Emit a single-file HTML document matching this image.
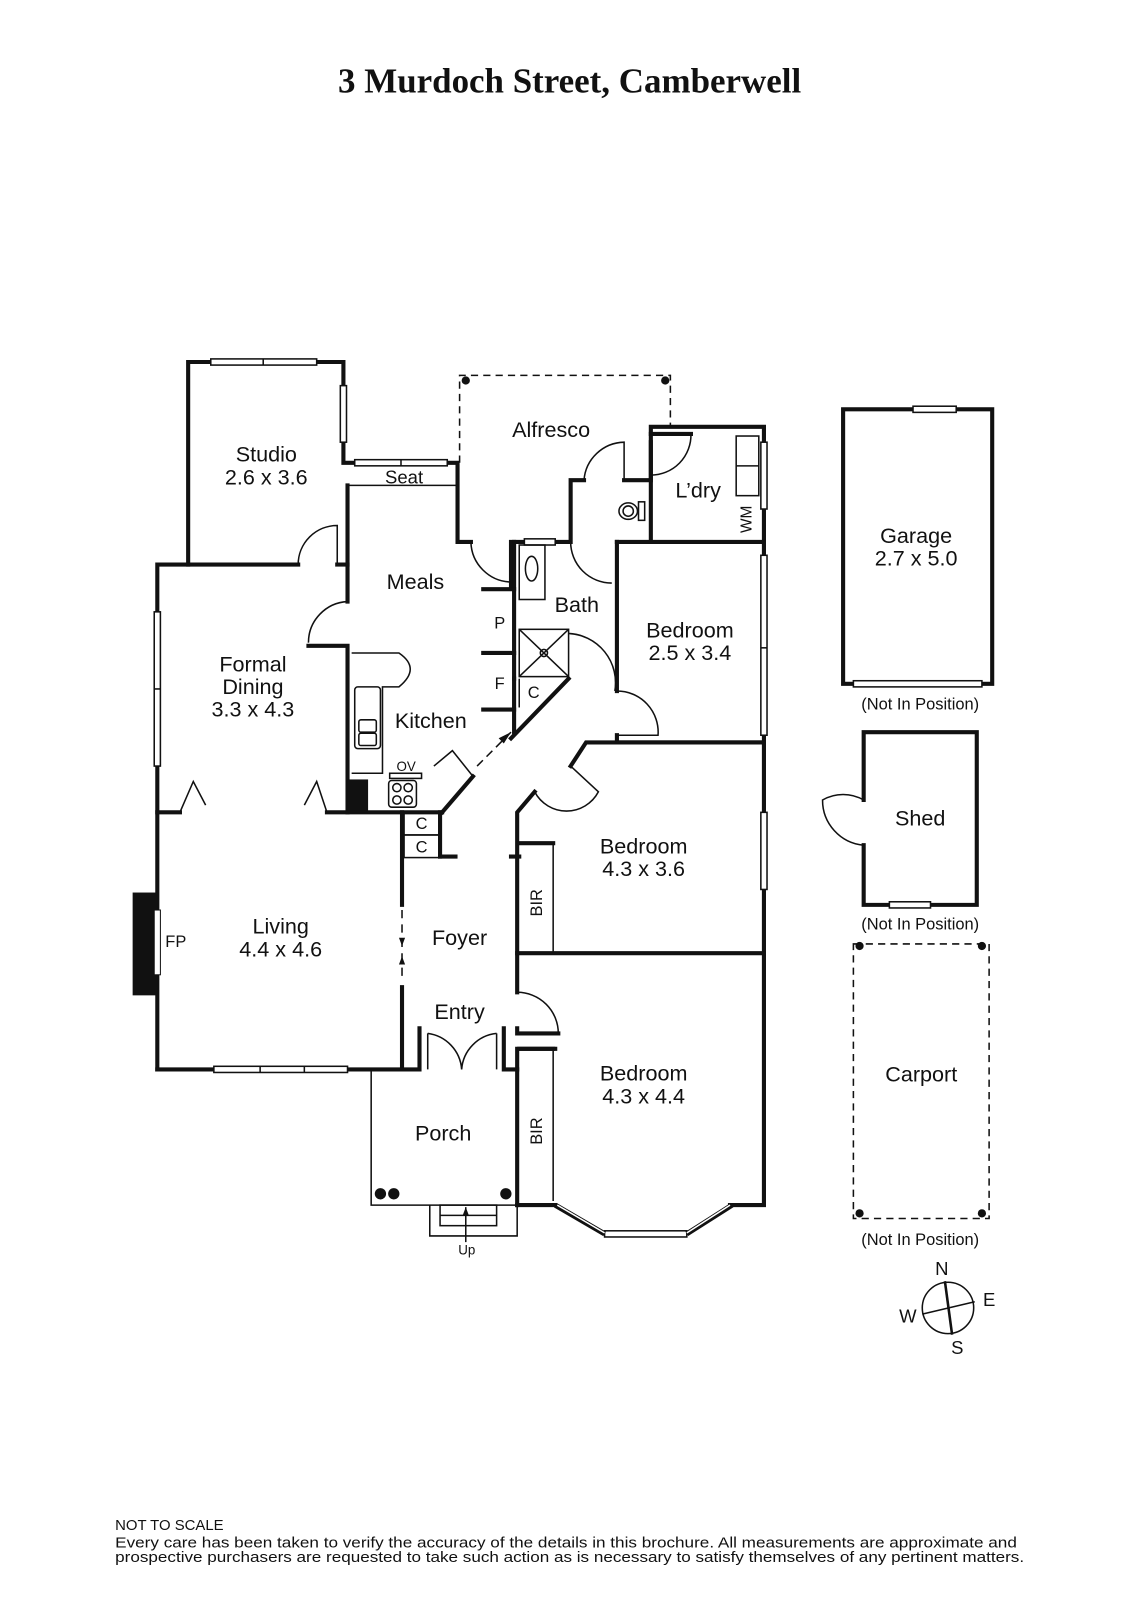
<!DOCTYPE html>
<html><head><meta charset="utf-8"><style>
html,body{margin:0;padding:0;background:#fff}
svg{display:block}
text{font-family:"Liberation Sans",sans-serif;fill:#111}
</style></head><body>
<svg width="1131" height="1600" viewBox="0 0 1100 1556" xmlns="http://www.w3.org/2000/svg">
<rect width="1100" height="1556" fill="#fff"/>
<text x="554" y="90" text-anchor="middle" style="font-family:'Liberation Serif',serif;font-weight:bold;font-size:34px">3 Murdoch Street, Camberwell</text>

<g fill="none" stroke="#111" stroke-width="4" stroke-linejoin="miter" stroke-linecap="square">
<polyline points="183,549 183,352 334,352 334,450 445,450 445,527 458,527"/>
<polyline points="153,1040 153,549 290,549"/>
<line x1="328" y1="549" x2="338" y2="549"/>
<polyline points="338,472 338,585"/>
<polyline points="300,628 338,628 338,790"/>
<polyline points="497,570 497,527 555,527 555,467 568,467"/>
<polyline points="607,467 633,467 633,430"/>
<polyline points="633,527 633,415 743,415 743,1172 710,1172"/>
<line x1="633" y1="422" x2="672" y2="422"/>
<polyline points="600,527 743,527"/>
<polyline points="600,527 600,672"/>
<polyline points="600,715 600,722 743,722"/>
<line x1="500" y1="527" x2="500" y2="660"/>
<polyline points="470,573 500,573"/>
<polyline points="470,635 500,635"/>
<line x1="470" y1="690" x2="500" y2="690"/>
<line x1="500" y1="660" x2="500" y2="712"/>
<line x1="553" y1="660" x2="497" y2="718"/>
<line x1="460" y1="755" x2="430" y2="790"/>
<polyline points="153,790 175,790"/>
<polyline points="318,790 430,790"/>
<line x1="428" y1="790" x2="428" y2="833"/>
<polyline points="391,790 391,880"/>
<line x1="391" y1="960" x2="391" y2="1040"/>
<polyline points="153,1040 408,1040 408,1000"/>
<line x1="428" y1="833" x2="443" y2="833"/>
<line x1="497" y1="833" x2="505" y2="833"/>
<polyline points="503,1172 503,1020 540,1020"/>
<polyline points="503,1000 503,1005 543,1005"/>
<polyline points="503,965 503,790 520,770"/>
<polyline points="555,745 570,722 743,722"/>
<polyline points="490,1000 490,1040 503,1040"/>
<line x1="503" y1="927" x2="743" y2="927"/>
<line x1="505" y1="820" x2="538" y2="820"/>
<line x1="505" y1="1020" x2="538" y2="1020"/>
<polyline points="503,1172 540,1172"/>
<rect x="820" y="398" width="145" height="267"/>
<polyline points="840,778 840,712 950,712 950,880 840,880 840,822"/>
</g>

<g fill="none" stroke="#111" stroke-width="1.5">
<line x1="338" y1="472" x2="445" y2="472"/>
<rect x="205" y="349" width="103" height="6" fill="#fff"/>
<line x1="256" y1="349" x2="256" y2="355"/>
<rect x="331" y="375" width="6" height="55" fill="#fff"/>
<rect x="345" y="447" width="90" height="6" fill="#fff"/>
<line x1="390" y1="447" x2="390" y2="453"/>
<rect x="150" y="595" width="6" height="150" fill="#fff"/>
<line x1="150" y1="670" x2="156" y2="670"/>
<rect x="510" y="524" width="30" height="6" fill="#fff"/>
<rect x="740" y="430" width="6" height="65" fill="#fff"/>
<rect x="740" y="540" width="6" height="175" fill="#fff"/>
<line x1="740" y1="630" x2="746" y2="630"/>
<rect x="740" y="790" width="6" height="75" fill="#fff"/>
<rect x="208" y="1037" width="130" height="6" fill="#fff"/>
<line x1="253" y1="1037" x2="253" y2="1043"/><line x1="296" y1="1037" x2="296" y2="1043"/>
<rect x="588" y="1197" width="80" height="6" fill="#fff"/>
<line x1="540" y1="1172" x2="588" y2="1200" stroke-width="5"/>
<line x1="668" y1="1200" x2="712" y2="1172" stroke-width="5"/>
<line x1="542" y1="1172" x2="588" y2="1199" stroke="#fff" stroke-width="1.5"/>
<line x1="668" y1="1199" x2="710" y2="1172" stroke="#fff" stroke-width="1.5"/>
<rect x="888" y="395" width="42" height="6" fill="#fff"/>
<rect x="830" y="662" width="125" height="6" fill="#fff"/>
<rect x="865" y="877" width="40" height="6" fill="#fff"/>
<path d="M290,549 A38,38 0 0 1 328,511 L328,549"/>
<path d="M338,585 A40,40 0 0 0 300,625"/>
<path d="M458,527 A40,40 0 0 0 497,566"/>
<path d="M555,527 A40,40 0 0 0 595,567"/>
<path d="M568,467 A40,40 0 0 1 607,430 L607,467"/>
<path d="M633,422 L672,422 A39,39 0 0 1 633,462"/>
<path d="M553,616 A48,48 0 0 1 598,672"/>
<path d="M600,672 A40,40 0 0 1 640,715 L600,715"/>
<path d="M520,770 A35,35 0 0 0 582,770 L555,745"/>
<path d="M503,965 A40,40 0 0 1 543,1005"/>
<path d="M416,1005 A38,38 0 0 1 449,1040 M449,1040 A38,38 0 0 1 483,1005"/>
<line x1="416" y1="1005" x2="416" y2="1040"/><line x1="483" y1="1005" x2="483" y2="1040"/>
<path d="M840,778 A40,40 0 0 0 800,778 A44,44 0 0 0 840,822"/>
<polyline points="175,790 188,760 200,783"/>
<polyline points="296,783 308,760 318,790"/>
<polyline points="422,745 440,730 460,755"/>
<path d="M342,635 L388,635 Q410,650 388,668 L372,668 L372,752 L342,752"/>
<rect x="345" y="668" width="25" height="60" rx="3"/>
<rect x="349" y="700" width="17" height="12" rx="2"/><rect x="349" y="713" width="17" height="12" rx="2"/>
<rect x="379" y="752" width="31" height="5"/>
<rect x="378" y="759" width="27" height="26" rx="3"/>
<circle cx="386" cy="766" r="4"/><circle cx="397" cy="766" r="4"/><circle cx="386" cy="778" r="4"/><circle cx="397" cy="778" r="4"/>
<rect x="505" y="530" width="25" height="53"/>
<ellipse cx="517" cy="553" rx="6" ry="12"/>
<rect x="505" y="612" width="48" height="46"/>
<line x1="505" y1="612" x2="553" y2="658"/><line x1="553" y1="612" x2="505" y2="658"/>
<circle cx="529" cy="635" r="3.5"/>
<line x1="505" y1="660" x2="505" y2="688"/>
<ellipse cx="611" cy="497" rx="9" ry="8"/><ellipse cx="611" cy="497" rx="5" ry="5"/><rect x="621" y="488" width="6" height="18"/>
<rect x="716" y="424" width="22" height="58"/><line x1="716" y1="453" x2="738" y2="453"/>
<line x1="538" y1="820" x2="538" y2="927"/>
<line x1="538" y1="1020" x2="538" y2="1168"/>
<rect x="393" y="790" width="35" height="22"/><rect x="393" y="812" width="35" height="22"/>
<polyline points="361,1040 361,1172 503,1172"/>
<polyline points="418,1172 418,1202 503,1202 503,1172"/>
<rect x="428" y="1172" width="55" height="20"/>
<line x1="428" y1="1182" x2="483" y2="1182"/>
<line x1="453" y1="1174" x2="453" y2="1208"/>
<line x1="391" y1="885" x2="391" y2="955" stroke-dasharray="8,6"/>
<line x1="464" y1="745" x2="497" y2="712" stroke-dasharray="8,5"/>
</g>
<polygon points="497,712 485,718 490,723" fill="#111"/>
<polygon points="391,920 388,912 394,912" fill="#111"/>
<polygon points="391,930 388,938 394,938" fill="#111"/>
<polygon points="453,1174 450,1182 456,1182" fill="#111"/>

<rect x="129" y="868" width="24" height="100" fill="#111"/>
<rect x="150" y="885" width="6" height="63" fill="#fff" stroke="#111" stroke-width="1"/>
<rect x="338" y="758" width="20" height="32" fill="#111"/>

<g fill="#111">
<circle cx="453" cy="370" r="4"/><circle cx="647" cy="370" r="4"/>
<circle cx="370" cy="1161" r="5.5"/><circle cx="383" cy="1161" r="5.5"/><circle cx="492" cy="1161" r="5.5"/>
<circle cx="836" cy="920" r="4"/><circle cx="955" cy="920" r="4"/><circle cx="836" cy="1180" r="4"/><circle cx="955" cy="1180" r="4"/>
</g>
<g fill="none" stroke="#111" stroke-width="1.5" stroke-dasharray="7,5">
<polyline points="447,450 447,365 652,365 652,415"/>
<rect x="830" y="918" width="132" height="267"/>
</g>

<g stroke="#111" stroke-width="1.5" fill="none">
<circle cx="922" cy="1272" r="25"/>
<line x1="919" y1="1246" x2="926" y2="1298" stroke-width="2.5"/>
<line x1="897" y1="1278" x2="948" y2="1266"/>
</g>
<g font-size="18">
<text x="916" y="1240" text-anchor="middle">N</text>
<text x="962" y="1270" text-anchor="middle">E</text>
<text x="883" y="1286" text-anchor="middle">W</text>
<text x="931" y="1317" text-anchor="middle">S</text>
</g>

<g font-size="21" text-anchor="middle">
<text x="259" y="449">Studio</text><text x="259" y="471">2.6 x 3.6</text>
<text x="536" y="425">Alfresco</text>
<text x="679" y="484">L’dry</text>
<text x="404" y="573">Meals</text>
<text x="561" y="595">Bath</text>
<text x="671" y="620">Bedroom</text><text x="671" y="642">2.5 x 3.4</text>
<text x="246" y="653">Formal</text><text x="246" y="675">Dining</text><text x="246" y="697">3.3 x 4.3</text>
<text x="419" y="708">Kitchen</text>
<text x="626" y="830">Bedroom</text><text x="626" y="852">4.3 x 3.6</text>
<text x="273" y="908">Living</text><text x="273" y="930">4.4 x 4.6</text>
<text x="447" y="919">Foyer</text>
<text x="447" y="991">Entry</text>
<text x="626" y="1051">Bedroom</text><text x="626" y="1073">4.3 x 4.4</text>
<text x="431" y="1109">Porch</text>
<text x="891" y="528">Garage</text><text x="891" y="550">2.7 x 5.0</text>
<text x="895" y="803">Shed</text>
<text x="896" y="1052">Carport</text>
</g>
<g font-size="16" text-anchor="middle">
<text x="393" y="470" font-size="18">Seat</text>
<text x="486" y="611">P</text>
<text x="486" y="670">F</text>
<text x="519" y="679">C</text>
<text x="410" y="806">C</text><text x="410" y="829">C</text>
<text x="171" y="921">FP</text>
<text x="395" y="750" font-size="13">OV</text>
<text x="454" y="1220" font-size="13">Up</text>
<text x="895" y="690">(Not In Position)</text>
<text x="895" y="904">(Not In Position)</text>
<text x="895" y="1211">(Not In Position)</text>
<text transform="translate(731,505) rotate(-90)" font-size="15">WM</text>
<text transform="translate(527,878) rotate(-90)">BIR</text>
<text transform="translate(527,1100) rotate(-90)">BIR</text>
</g>

<g font-size="14.5">
<text x="112" y="1488">NOT TO SCALE</text>
<text x="112" y="1505" textLength="877" lengthAdjust="spacingAndGlyphs">Every care has been taken to verify the accuracy of the details in this brochure. All measurements are approximate and</text>
<text x="112" y="1519" textLength="884" lengthAdjust="spacingAndGlyphs">prospective purchasers are requested to take such action as is necessary to satisfy themselves of any pertinent matters.</text>
</g>
</svg>
</body></html>
